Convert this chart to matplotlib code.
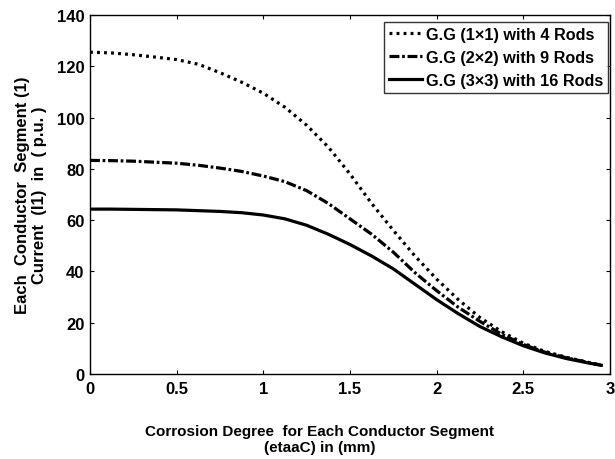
import matplotlib
matplotlib.use("Agg")
import matplotlib.pyplot as plt

# =============================================================================
# DATA
# =============================================================================

# corrosion degree (etaaC) in mm
corrosion_mm = [0.0, 0.125, 0.25, 0.375, 0.5, 0.625, 0.75, 0.875, 1.0, 1.125,
                1.25, 1.375, 1.5, 1.625, 1.75, 1.875, 2.0, 2.125, 2.25, 2.375,
                2.5, 2.625, 2.75, 2.875, 2.95]

# current I1 in p.u.
grid_1x1 = [125.5, 125.2, 124.5, 123.6, 122.6, 120.8, 117.5, 113.8, 109.5, 104.0,
            97.0, 88.5, 78.0, 66.5, 56.0, 46.0, 37.0, 29.0, 22.0, 16.5,
            12.0, 8.8, 6.5, 4.5, 3.4]
grid_2x2 = [83.3, 83.2, 83.0, 82.6, 82.2, 81.4, 80.3, 79.0, 77.2, 75.0,
            71.5, 66.5, 60.5, 54.5, 47.5, 39.5, 32.5, 26.0, 20.5, 15.5,
            11.5, 8.5, 6.3, 4.5, 3.4]
grid_3x3 = [64.3, 64.3, 64.2, 64.1, 64.0, 63.7, 63.4, 62.9, 62.0, 60.5,
            58.0, 54.5, 50.5, 46.0, 41.0, 35.0, 29.0, 23.5, 18.5, 14.5,
            11.0, 8.2, 6.0, 4.3, 3.4]

series_labels = ["G.G (1\u00d71) with 4 Rods",
                 "G.G (2\u00d72) with 9 Rods",
                 "G.G (3\u00d73) with 16 Rods"]

x_ticks = [0, 0.5, 1, 1.5, 2, 2.5, 3]
x_tick_labels = ["0", "0.5", "1", "1.5", "2", "2.5", "3"]
y_ticks = [0, 20, 40, 60, 80, 100, 120, 140]

# =============================================================================
# STYLE
# =============================================================================

FONT = "Liberation Sans"
FS_TICK = 12
FS_XLABEL = 11
FS_YLABEL = 12
FS_LEG = 11.7
LW = 2.3

plt.rcParams["font.family"] = [FONT, "DejaVu Sans"]
plt.rcParams["font.weight"] = "bold"

fig = plt.figure(figsize=(6.15, 4.6), dpi=100)
ax = fig.add_axes([90 / 615, 1 - 375 / 460, 520 / 615, 359 / 460])

ax.plot(corrosion_mm, grid_1x1, color="black", lw=LW,
        linestyle=(0, (0.9, 1.3)), label=series_labels[0])
ax.plot(corrosion_mm, grid_2x2, color="black", lw=LW,
        linestyle=(0, (3.1, 0.85, 0.85, 0.85)), label=series_labels[1])
ax.plot(corrosion_mm, grid_3x3, color="black", lw=LW,
        linestyle="-", label=series_labels[2])

ax.set_xlim(0, 3)
ax.set_ylim(0, 140)
ax.set_xticks(x_ticks)
ax.set_xticklabels(x_tick_labels)
ax.set_yticks(y_ticks)

ax.tick_params(direction="in", length=3, width=0.8, labelsize=FS_TICK,
               top=True, right=True)
ax.tick_params(axis="x", pad=5)
ax.tick_params(axis="y", pad=4)
for lab in ax.get_xticklabels() + ax.get_yticklabels():
    lab.set_fontweight("bold")
for sp in ax.spines.values():
    sp.set_linewidth(1.0)

ax.set_xlabel("Corrosion Degree  for Each Conductor Segment\n(etaaC) in (mm)",
              fontsize=FS_XLABEL, fontweight="bold", linespacing=1.2)
ax.xaxis.set_label_coords(0.442, -0.14)
ax.set_ylabel("Each  Conductor  Segment (1)\nCurrent  (I1)  in  ( p.u. )",
              fontsize=FS_YLABEL, fontweight="bold", linespacing=1.15)
ax.yaxis.set_label_coords(-0.083, 0.5)

leg = ax.legend(loc="upper right", bbox_to_anchor=(1 - 2 / 520, 1 - 7 / 359),
                fontsize=FS_LEG, frameon=True, fancybox=False,
                edgecolor="black", borderaxespad=0, handlelength=2.0,
                handletextpad=0.25, borderpad=0.3, labelspacing=0.5)
leg.get_frame().set_linewidth(1.0)
for t in leg.get_texts():
    t.set_fontweight("bold")

fig.savefig("out.png", dpi=100)
